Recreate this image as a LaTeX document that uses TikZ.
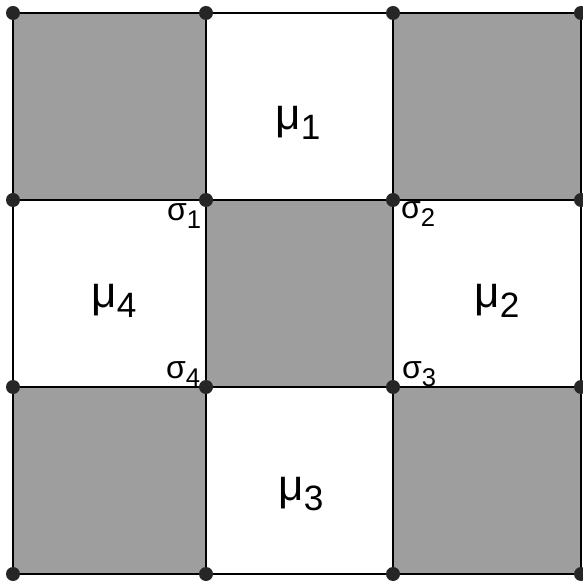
\documentclass[tikz,border=0pt]{standalone}
\usepackage{fontspec}
\setmainfont{Liberation Sans}
\definecolor{tilegray}{gray}{0.62}
\newcommand{\lab}[2]{#1\raisebox{-0.45ex}{\fontsize{0.8em}{1em}\selectfont #2}}

\begin{document}
\begin{tikzpicture}[
    x=0.5pt, y=-0.5pt,
    tile/.style={fill=tilegray, draw=black, line width=0.9pt},
    edge/.style={draw=black, line width=0.9pt},
    vertex/.style={circle, fill=black!85, inner sep=0pt, minimum size=7pt},
    mulabel/.style={font=\fontsize{22}{22}\selectfont, inner sep=0pt},
    siglabel/.style={font=\fontsize{16}{16}\selectfont, inner sep=0pt}
]
    \useasboundingbox (0,0) rectangle (583,582);
    \fill[white] (0,0) rectangle (583,582);

    % Shaded squares
    \draw[tile] (13,13) rectangle (206,200);
    \draw[tile] (393,13) rectangle (581,200);
    \draw[tile] (206,200) rectangle (393,387);
    \draw[tile] (13,387) rectangle (206,574);
    \draw[tile] (393,387) rectangle (581,574);

    % Grid lines
    \foreach \x in {13,206,393,581}
        \draw[edge] (\x,13) -- (\x,574);
    \foreach \y in {13,200,387,574}
        \draw[edge] (13,\y) -- (581,\y);

    % Vertices
    \foreach \x/\i in {13/a,206/b,393/c,581/d}
        \foreach \y/\j in {13/1,200/2,387/3,574/4}
            \node[vertex] (v\i\j) at (\x,\y) {};

    % Face labels
    \node[mulabel] (mu1) at (298,123) {\lab{μ}{1}};
    \node[mulabel] (mu2) at (497,301) {\lab{μ}{2}};
    \node[mulabel] (mu3) at (301,494) {\lab{μ}{3}};
    \node[mulabel] (mu4) at (114,301) {\lab{μ}{4}};

    % Vertex labels
    \node[siglabel] (sig1) at (184,216) {\lab{σ}{1}};
    \node[siglabel] (sig2) at (418,214) {\lab{σ}{2}};
    \node[siglabel] (sig3) at (419,374) {\lab{σ}{3}};
    \node[siglabel] (sig4) at (183,374) {\lab{σ}{4}};
\end{tikzpicture}
\end{document}
